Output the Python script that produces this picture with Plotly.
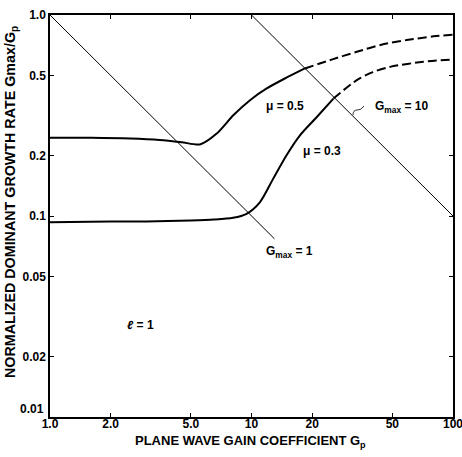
import plotly.graph_objects as go

# Plane wave gain coefficient Gp vs normalized dominant growth rate Gmax/Gp
mu05_solid_gp = [1.0, 1.6, 2.5, 3.5, 4.5, 5.55, 6.72, 8.12, 9.83, 11.9, 14.4, 18.4]
mu05_solid_rate = [0.245, 0.245, 0.243, 0.239, 0.233, 0.227, 0.257, 0.317, 0.377, 0.431, 0.479, 0.542]
mu05_dash_gp = [18.4, 25.0, 33.3, 45.0, 58.9, 80.0, 100.0]
mu05_dash_rate = [0.542, 0.600, 0.656, 0.715, 0.750, 0.783, 0.797]

mu03_solid_gp = [1.0, 2.0, 3.0, 5.0, 6.5, 8.1, 9.45, 11.0, 12.8, 14.9, 17.4, 21.1, 25.5]
mu03_solid_rate = [0.093, 0.094, 0.094, 0.095, 0.096, 0.098, 0.1026, 0.117, 0.153, 0.200, 0.252, 0.311, 0.384]
mu03_dash_gp = [25.5, 33.3, 40.0, 48.7, 71.2, 100.0]
mu03_dash_rate = [0.384, 0.474, 0.520, 0.552, 0.585, 0.601]

# Constant-Gmax lines (Gmax/Gp falls as 1/Gp)
gmax1_gp = [1.0, 13.0]
gmax1_rate = [1.0, 0.077]
gmax10_gp = [10.0, 100.0]
gmax10_rate = [1.0, 0.1]

x_tickvals = [1, 2, 5, 10, 20, 50, 100]
x_ticktext = ["1.0", "2.0", "5.0", "10", "20", "50", "100"]
y_tickvals = [0.01, 0.02, 0.05, 0.1, 0.2, 0.5, 1.0]
y_ticktext = ["0.01", "0.02", "0.05", "0.1", "0.2", "0.5", "1.0"]

W, H = 462, 457
ML, MR, MT, MB = 50, 9, 15, 40
PW, PH = W - ML - MR, H - MT - MB


def px(x):
    return (x - ML) / PW


def py(y):
    return (H - MB - y) / PH


FONT = "Liberation Sans, Arial, sans-serif"

fig = go.Figure()

thick = dict(color="black", width=2)
thin = dict(color="black", width=1)
dashed = dict(color="black", width=2, dash="9px,4px")

fig.add_trace(go.Scatter(x=gmax1_gp, y=gmax1_rate, mode="lines", line=thin))
fig.add_trace(go.Scatter(x=gmax10_gp, y=gmax10_rate, mode="lines", line=thin))
fig.add_trace(go.Scatter(x=mu05_solid_gp, y=mu05_solid_rate, mode="lines",
                         line=dict(thick, shape="spline", smoothing=0.7)))
fig.add_trace(go.Scatter(x=mu05_dash_gp, y=mu05_dash_rate, mode="lines",
                         line=dict(dashed, shape="spline", smoothing=0.8)))
fig.add_trace(go.Scatter(x=mu03_solid_gp, y=mu03_solid_rate, mode="lines",
                         line=dict(thick, shape="spline", smoothing=0.8)))
fig.add_trace(go.Scatter(x=mu03_dash_gp, y=mu03_dash_rate, mode="lines",
                         line=dict(dashed, shape="spline", smoothing=0.8)))

axis_common = dict(
    type="log",
    showgrid=False,
    zeroline=False,
    showline=True,
    linecolor="black",
    linewidth=1.5,
    mirror="ticks",
    ticks="inside",
    ticklen=4,
    tickwidth=1,
    tickcolor="black",
    ticklabeloverflow="allow",
)
tick_font = dict(family=FONT, size=12, color="black", weight="bold")

fig.update_xaxes(range=[0, 2], tickvals=x_tickvals, ticktext=x_ticktext,
                 ticklabelstandoff=-5, tickfont=tick_font, **axis_common)
# the lowest y label sits a little above its tick, clear of the x labels
fig.update_yaxes(range=[-2, 0], tickvals=y_tickvals,
                 ticktext=[""] + y_ticktext[1:], tickfont=tick_font, **axis_common)

lab = dict(family=FONT, size=12, color="black", weight="bold")
annotations = [
    dict(x=px(46), y=py(409), text=y_ticktext[0], xanchor="right", font=tick_font),
    dict(x=px(285), y=py(106), text="μ = 0.5"),
    dict(x=px(322), y=py(151), text="μ = 0.3"),
    dict(x=px(289), y=py(252), text="G<sub>max</sub> = 1"),
    dict(x=px(401), y=py(107), text="G<sub>max</sub> = 10"),
    dict(x=px(140), y=py(325), text="<i>ℓ</i> = 1"),
    dict(x=px(250), y=py(441), text="PLANE WAVE GAIN COEFFICIENT G<sub>p</sub>",
         font=dict(family=FONT, size=13, color="black", weight="bold")),
    dict(x=px(11), y=py(202), text="NORMALIZED DOMINANT GROWTH RATE Gmax/G<sub>p</sub>",
         textangle=-90,
         font=dict(family=FONT, size=14.3, color="black", weight="bold")),
]
for a in annotations:
    a.setdefault("font", lab)
    a.setdefault("xanchor", "center")
    fig.add_annotation(xref="paper", yref="paper", showarrow=False,
                       yanchor="middle", **a)

# Small squiggle leader tying the Gmax = 10 label to its line
sq = [(353, 115), (353, 110), (357, 110), (361, 110.5), (364, 106)]
path = "M {},{} Q {},{} {},{} Q {},{} {},{}".format(
    px(sq[0][0]), py(sq[0][1]), px(sq[1][0]), py(sq[1][1]), px(sq[2][0]), py(sq[2][1]),
    px(sq[3][0]), py(sq[3][1]), px(sq[4][0]), py(sq[4][1]))
fig.add_shape(type="path", xref="paper", yref="paper", path=path,
              line=dict(color="black", width=0.8))

fig.update_layout(
    width=W, height=H,
    margin=dict(l=ML, r=MR, t=MT, b=MB, autoexpand=False),
    plot_bgcolor="white", paper_bgcolor="white",
    showlegend=False,
)

fig.write_html("out.html")
